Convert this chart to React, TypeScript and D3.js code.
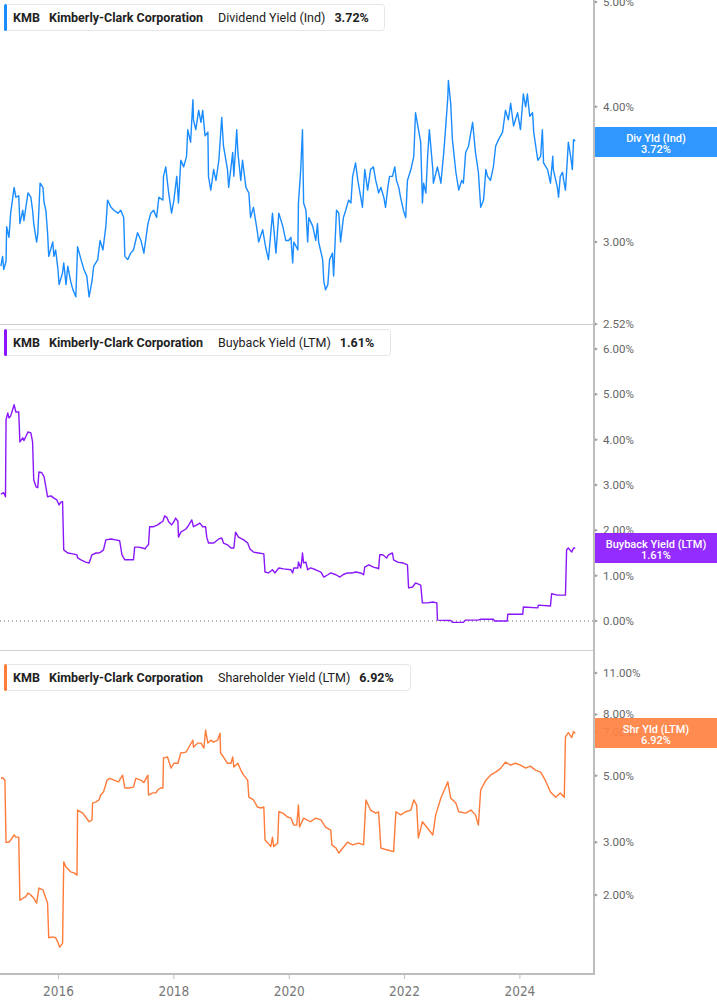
import React from "react";
import * as d3 from "d3";

// ---------- DATA ----------
const yearTicks = [2016, 2018, 2020, 2022, 2024];
const divTicks = [2.52, 3, 4, 5];
const buyTicks = [0, 1, 2, 3, 4, 5, 6];
const shrTicks = [2, 3, 5, 7, 8, 11];

const ticker = "KMB";
const company = "Kimberly-Clark Corporation";
const seriesNames = ["Dividend Yield (Ind)", "Buyback Yield (LTM)", "Shareholder Yield (LTM)"];
const shortNames = ["Div Yld (Ind)", "Buyback Yield (LTM)", "Shr Yld (LTM)"];
const lastValues = [3.72, 1.61, 6.92];

// [decimal year, yield %]
const dividendYield: [number, number][] = [
  [2015.0, 2.85], [2015.03, 2.91], [2015.05, 2.83], [2015.09, 2.88], [2015.1, 3.1], [2015.14, 3.03],
  [2015.17, 3.19], [2015.23, 3.37], [2015.26, 3.3], [2015.31, 3.31], [2015.33, 3.12], [2015.38, 3.21],
  [2015.4, 3.14], [2015.47, 3.33], [2015.52, 3.3], [2015.55, 3.21], [2015.57, 3.12], [2015.62, 3.0],
  [2015.64, 3.05], [2015.68, 3.4], [2015.73, 3.37], [2015.75, 3.26], [2015.78, 3.21], [2015.81, 3.06],
  [2015.83, 2.91], [2015.9, 3.0], [2015.92, 2.91], [2015.95, 2.95], [2015.99, 2.83], [2016.01, 2.74],
  [2016.07, 2.81], [2016.09, 2.87], [2016.13, 2.74], [2016.16, 2.85], [2016.21, 2.76], [2016.25, 2.71],
  [2016.3, 2.67], [2016.33, 2.97], [2016.39, 2.89], [2016.44, 2.83], [2016.49, 2.79], [2016.53, 2.67],
  [2016.58, 2.76], [2016.61, 2.85], [2016.68, 2.89], [2016.72, 3.01], [2016.77, 2.95], [2016.82, 3.1],
  [2016.85, 3.28], [2016.91, 3.23], [2016.96, 3.21], [2017.03, 3.19], [2017.08, 3.21], [2017.13, 3.16],
  [2017.15, 2.91], [2017.2, 2.89], [2017.25, 2.93], [2017.3, 2.95], [2017.37, 3.06], [2017.43, 3.01],
  [2017.48, 2.93], [2017.55, 3.12], [2017.6, 3.19], [2017.65, 3.21], [2017.7, 3.16], [2017.74, 3.3],
  [2017.81, 3.28], [2017.82, 3.45], [2017.86, 3.52], [2017.89, 3.4], [2017.91, 3.33], [2017.96, 3.19],
  [2018.0, 3.28], [2018.05, 3.45], [2018.08, 3.26], [2018.12, 3.57], [2018.17, 3.52], [2018.22, 3.6],
  [2018.24, 3.81], [2018.29, 3.71], [2018.33, 4.06], [2018.34, 3.89], [2018.38, 3.81], [2018.43, 3.97],
  [2018.47, 3.87], [2018.5, 3.97], [2018.54, 3.76], [2018.59, 3.79], [2018.6, 3.45], [2018.64, 3.35],
  [2018.69, 3.5], [2018.73, 3.42], [2018.78, 3.57], [2018.83, 3.91], [2018.86, 3.68], [2018.93, 3.5],
  [2018.95, 3.37], [2019.02, 3.63], [2019.04, 3.45], [2019.09, 3.81], [2019.11, 3.63], [2019.16, 3.42],
  [2019.19, 3.57], [2019.25, 3.37], [2019.3, 3.33], [2019.33, 3.16], [2019.38, 3.23], [2019.45, 3.06],
  [2019.47, 3.0], [2019.54, 3.08], [2019.59, 2.97], [2019.64, 2.89], [2019.71, 3.19], [2019.77, 2.93],
  [2019.82, 3.19], [2019.89, 3.1], [2019.94, 3.01], [2019.99, 3.01], [2020.03, 3.03], [2020.06, 2.87],
  [2020.08, 3.0], [2020.15, 2.95], [2020.16, 3.26], [2020.2, 3.5], [2020.23, 3.81], [2020.25, 3.26],
  [2020.29, 3.21], [2020.32, 3.0], [2020.34, 3.16], [2020.41, 3.1], [2020.46, 3.01], [2020.49, 3.12],
  [2020.51, 3.0], [2020.58, 2.89], [2020.6, 2.76], [2020.63, 2.71], [2020.67, 2.74], [2020.7, 2.89],
  [2020.75, 2.93], [2020.77, 2.79], [2020.82, 3.21], [2020.86, 3.19], [2020.89, 3.0], [2020.94, 3.16],
  [2020.98, 3.21], [2021.03, 3.28], [2021.07, 3.26], [2021.1, 3.45], [2021.15, 3.55], [2021.19, 3.42],
  [2021.24, 3.3], [2021.27, 3.23], [2021.31, 3.5], [2021.36, 3.35], [2021.41, 3.5], [2021.46, 3.52],
  [2021.5, 3.42], [2021.53, 3.37], [2021.55, 3.33], [2021.59, 3.37], [2021.64, 3.3], [2021.67, 3.23],
  [2021.71, 3.37], [2021.74, 3.45], [2021.79, 3.45], [2021.83, 3.52], [2021.86, 3.42], [2021.9, 3.37],
  [2021.93, 3.3], [2021.98, 3.21], [2022.02, 3.16], [2022.05, 3.42], [2022.11, 3.5], [2022.16, 3.6],
  [2022.19, 3.95], [2022.23, 3.84], [2022.28, 3.71], [2022.31, 3.26], [2022.33, 3.4], [2022.37, 3.33],
  [2022.4, 3.6], [2022.43, 3.81], [2022.49, 3.5], [2022.5, 3.4], [2022.57, 3.52], [2022.63, 3.4],
  [2022.68, 3.63], [2022.71, 3.81], [2022.75, 4.08], [2022.76, 4.23], [2022.8, 4.03], [2022.83, 3.73],
  [2022.89, 3.48], [2022.94, 3.35], [2022.99, 3.42], [2023.02, 3.4], [2023.06, 3.63], [2023.11, 3.68],
  [2023.18, 3.87], [2023.23, 3.63], [2023.28, 3.48], [2023.32, 3.23], [2023.37, 3.28], [2023.41, 3.5],
  [2023.44, 3.45], [2023.49, 3.42], [2023.54, 3.52], [2023.58, 3.68], [2023.63, 3.73], [2023.7, 3.79],
  [2023.75, 3.97], [2023.8, 3.89], [2023.84, 4.03], [2023.89, 3.84], [2023.96, 3.95], [2024.01, 3.81],
  [2024.06, 4.11], [2024.1, 4.0], [2024.13, 4.11], [2024.17, 3.92], [2024.22, 3.95], [2024.24, 3.79],
  [2024.31, 3.57], [2024.36, 3.6], [2024.39, 3.81], [2024.41, 3.55], [2024.48, 3.5], [2024.53, 3.4],
  [2024.57, 3.6], [2024.58, 3.5], [2024.65, 3.37], [2024.67, 3.3], [2024.7, 3.45], [2024.74, 3.48],
  [2024.76, 3.42], [2024.79, 3.35], [2024.83, 3.63], [2024.84, 3.71], [2024.88, 3.6], [2024.91, 3.5],
  [2024.93, 3.73], [2024.96, 3.72],
];

const buybackYield: [number, number][] = [
  [2015.0, 2.8], [2015.05, 2.83], [2015.08, 2.74], [2015.09, 4.44], [2015.12, 4.59], [2015.14, 4.48],
  [2015.17, 4.52], [2015.23, 4.77], [2015.26, 4.61], [2015.31, 4.61], [2015.33, 3.95], [2015.38, 4.04],
  [2015.4, 3.98], [2015.47, 4.17], [2015.52, 4.15], [2015.55, 3.95], [2015.57, 3.11], [2015.61, 2.96],
  [2015.64, 2.94], [2015.66, 3.29], [2015.71, 3.27], [2015.75, 3.18], [2015.78, 2.96], [2015.81, 2.74],
  [2015.87, 2.76], [2015.92, 2.71], [2015.97, 2.67], [2016.01, 2.56], [2016.04, 2.62], [2016.07, 2.63],
  [2016.09, 1.57], [2016.16, 1.5], [2016.25, 1.48], [2016.32, 1.46], [2016.33, 1.39], [2016.39, 1.35],
  [2016.47, 1.3], [2016.53, 1.28], [2016.58, 1.46], [2016.65, 1.5], [2016.7, 1.5], [2016.73, 1.52],
  [2016.78, 1.57], [2016.82, 1.79], [2016.91, 1.81], [2016.99, 1.79], [2017.06, 1.77], [2017.1, 1.46],
  [2017.15, 1.35], [2017.22, 1.35], [2017.3, 1.35], [2017.32, 1.63], [2017.39, 1.63], [2017.46, 1.61],
  [2017.5, 1.59], [2017.55, 1.68], [2017.56, 1.68], [2017.58, 2.08], [2017.65, 2.08], [2017.72, 2.12],
  [2017.76, 2.16], [2017.81, 2.2], [2017.84, 2.32], [2017.88, 2.28], [2017.91, 2.19], [2017.96, 2.12],
  [2018.0, 2.19], [2018.03, 2.27], [2018.07, 2.2], [2018.08, 1.85], [2018.12, 1.96], [2018.21, 2.03],
  [2018.26, 2.12], [2018.31, 2.23], [2018.34, 2.08], [2018.4, 2.12], [2018.45, 2.16], [2018.5, 2.08],
  [2018.55, 2.08], [2018.57, 1.85], [2018.6, 1.72], [2018.69, 1.72], [2018.78, 1.81], [2018.83, 1.83],
  [2018.86, 1.72], [2018.93, 1.68], [2018.99, 1.61], [2019.04, 1.61], [2019.07, 1.96], [2019.12, 1.85],
  [2019.21, 1.79], [2019.28, 1.72], [2019.32, 1.59], [2019.38, 1.52], [2019.47, 1.5], [2019.56, 1.48],
  [2019.58, 1.08], [2019.64, 1.06], [2019.71, 1.13], [2019.75, 1.06], [2019.82, 1.17], [2019.9, 1.15],
  [2020.03, 1.13], [2020.06, 1.06], [2020.08, 1.17], [2020.15, 1.17], [2020.16, 1.3], [2020.2, 1.17],
  [2020.22, 1.35], [2020.23, 1.5], [2020.25, 1.28], [2020.29, 1.3], [2020.32, 1.13], [2020.37, 1.17],
  [2020.46, 1.13], [2020.55, 1.08], [2020.6, 0.97], [2020.67, 1.02], [2020.72, 1.06], [2020.81, 1.02],
  [2020.88, 0.97], [2020.93, 1.02], [2021.01, 1.06], [2021.1, 1.06], [2021.15, 1.08], [2021.24, 1.06],
  [2021.29, 1.02], [2021.31, 1.19], [2021.38, 1.24], [2021.46, 1.19], [2021.52, 1.17], [2021.55, 1.15],
  [2021.57, 1.46], [2021.62, 1.46], [2021.69, 1.39], [2021.72, 1.46], [2021.79, 1.5], [2021.81, 1.35],
  [2021.88, 1.3], [2021.97, 1.28], [2022.05, 1.24], [2022.07, 0.73], [2022.14, 0.75], [2022.19, 0.84],
  [2022.28, 0.79], [2022.31, 0.4], [2022.4, 0.4], [2022.49, 0.42], [2022.56, 0.4], [2022.57, 0.02],
  [2022.8, 0.01], [2022.83, -0.03], [2023.02, -0.03], [2023.06, 0.02], [2023.28, 0.02], [2023.32, 0.04],
  [2023.54, 0.04], [2023.56, 0.0], [2023.78, 0.0], [2023.79, 0.15], [2024.05, 0.15], [2024.06, 0.31],
  [2024.31, 0.29], [2024.32, 0.35], [2024.53, 0.33], [2024.55, 0.6], [2024.65, 0.57], [2024.79, 0.57],
  [2024.81, 1.57], [2024.84, 1.61], [2024.9, 1.52], [2024.93, 1.61], [2024.96, 1.61],
];

const shareholderYield: [number, number][] = [
  [2015.0, 4.9], [2015.03, 4.93], [2015.07, 4.83], [2015.09, 3.0], [2015.14, 3.0], [2015.17, 3.05],
  [2015.23, 3.17], [2015.26, 3.12], [2015.31, 3.12], [2015.33, 1.92], [2015.38, 1.95], [2015.43, 1.97],
  [2015.47, 2.03], [2015.52, 2.0], [2015.57, 1.95], [2015.62, 1.88], [2015.66, 2.11], [2015.73, 2.08],
  [2015.78, 1.95], [2015.81, 1.88], [2015.83, 1.44], [2015.9, 1.45], [2015.95, 1.44], [2015.99, 1.39],
  [2016.02, 1.34], [2016.07, 1.38], [2016.09, 2.58], [2016.13, 2.48], [2016.21, 2.39], [2016.27, 2.37],
  [2016.32, 2.33], [2016.33, 3.84], [2016.42, 3.75], [2016.47, 3.64], [2016.53, 3.51], [2016.58, 3.56],
  [2016.59, 4.05], [2016.65, 4.09], [2016.7, 4.15], [2016.73, 4.31], [2016.78, 4.41], [2016.84, 4.83],
  [2016.89, 4.9], [2016.96, 4.83], [2017.04, 4.77], [2017.11, 5.02], [2017.15, 4.55], [2017.22, 4.55],
  [2017.3, 4.58], [2017.34, 4.9], [2017.43, 4.83], [2017.48, 4.74], [2017.55, 5.02], [2017.56, 4.31],
  [2017.63, 4.38], [2017.69, 4.38], [2017.72, 4.48], [2017.77, 4.55], [2017.81, 4.55], [2017.82, 5.73],
  [2017.89, 5.77], [2017.95, 5.3], [2018.0, 5.5], [2018.07, 5.5], [2018.12, 5.95], [2018.21, 5.99],
  [2018.26, 6.22], [2018.33, 6.57], [2018.34, 6.22], [2018.41, 6.42], [2018.47, 6.42], [2018.52, 6.18],
  [2018.55, 7.1], [2018.59, 6.42], [2018.64, 6.57], [2018.69, 6.47], [2018.76, 6.57], [2018.8, 6.93],
  [2018.81, 5.95], [2018.86, 5.77], [2018.93, 5.5], [2018.99, 5.5], [2019.02, 5.77], [2019.04, 5.34],
  [2019.11, 5.5], [2019.16, 5.22], [2019.21, 5.02], [2019.28, 4.83], [2019.3, 4.24], [2019.38, 4.15],
  [2019.45, 3.93], [2019.51, 3.9], [2019.56, 3.93], [2019.58, 3.05], [2019.63, 2.98], [2019.68, 2.9],
  [2019.71, 3.12], [2019.73, 2.9], [2019.8, 2.98], [2019.82, 3.79], [2019.89, 3.75], [2019.97, 3.64],
  [2020.03, 3.61], [2020.08, 3.42], [2020.13, 3.42], [2020.16, 3.99], [2020.18, 3.37], [2020.25, 3.61],
  [2020.37, 3.51], [2020.46, 3.61], [2020.55, 3.56], [2020.63, 3.37], [2020.72, 3.29], [2020.74, 2.94],
  [2020.81, 2.87], [2020.86, 2.76], [2020.93, 2.87], [2021.01, 3.0], [2021.1, 2.94], [2021.2, 2.98],
  [2021.29, 2.94], [2021.33, 4.15], [2021.41, 3.84], [2021.5, 3.75], [2021.55, 3.79], [2021.59, 2.87],
  [2021.69, 2.83], [2021.81, 2.79], [2021.85, 3.79], [2021.93, 3.7], [2022.02, 3.79], [2022.11, 3.84],
  [2022.16, 4.15], [2022.21, 3.99], [2022.24, 3.1], [2022.31, 3.51], [2022.4, 3.34], [2022.49, 3.17],
  [2022.54, 3.7], [2022.63, 4.21], [2022.69, 4.48], [2022.75, 4.77], [2022.8, 4.21], [2022.89, 4.05],
  [2022.94, 3.79], [2023.06, 3.75], [2023.15, 3.84], [2023.23, 3.7], [2023.28, 3.42], [2023.32, 4.48],
  [2023.41, 4.83], [2023.49, 5.02], [2023.58, 5.14], [2023.67, 5.3], [2023.75, 5.55], [2023.84, 5.42],
  [2023.92, 5.5], [2024.01, 5.42], [2024.1, 5.3], [2024.18, 5.38], [2024.27, 5.22], [2024.36, 5.14],
  [2024.44, 4.83], [2024.53, 4.41], [2024.62, 4.24], [2024.7, 4.38], [2024.77, 4.24], [2024.79, 6.73],
  [2024.84, 6.96], [2024.9, 6.7], [2024.93, 7.02], [2024.96, 6.92],
];

// ---------- STYLE ----------
const W = 717;
const H = 1005;
const AXIS_X = 594;
const COLORS = ["#1a8cff", "#8a17fb", "#ff7b3a"];
const BOX_COLORS = ["#1f8fff", "#8c1cff", "#ff8244"];
const FONT = "Roboto, 'Noto Sans', sans-serif";

export default function App() {
  const x = d3.scaleLinear().domain([2014.985, 2025.285]).range([0, AXIS_X]);

  const panels = [
    {
      data: dividendYield,
      y: d3.scaleLog().domain([2.52, 5.02]).range([324, 0]),
      ticks: divTicks,
      top: 0,
      bottom: 325,
      legendY: 4,
      legendW: 380,
      boxY: 127,
    },
    {
      data: buybackYield,
      y: d3.scaleLinear().domain([0, 6]).range([621, 349]),
      ticks: buyTicks,
      top: 326,
      bottom: 650,
      legendY: 329,
      legendW: 386,
      boxY: 533,
    },
    {
      data: shareholderYield,
      y: d3.scaleLog().domain([2, 11]).range([895, 673]),
      ticks: shrTicks,
      top: 651,
      bottom: 974,
      legendY: 664,
      legendW: 406,
      boxY: 718,
    },
  ];

  const fmt = (v: number) => v.toFixed(2) + "%";

  return (
    <svg width={W} height={H} style={{ display: "block", position: "absolute", left: 0, top: 0, background: "#fff" }} fontFamily={FONT}>
      <defs>
        {panels.map((p, i) => (
          <clipPath id={`clip${i}`} key={i}>
            <rect x={0} y={p.top} width={AXIS_X} height={p.bottom - p.top} />
          </clipPath>
        ))}
      </defs>

      {/* separators */}
      <line x1={0} x2={AXIS_X} y1={324.5} y2={324.5} stroke="#cfcfcf" strokeWidth={1} />
      <line x1={0} x2={AXIS_X} y1={650.5} y2={650.5} stroke="#cfcfcf" strokeWidth={1} />

      {/* zero line in buyback panel */}
      <line
        x1={0}
        x2={AXIS_X}
        y1={panels[1].y(0)}
        y2={panels[1].y(0)}
        stroke="#666"
        strokeWidth={1}
        strokeDasharray="1,3"
      />

      {/* lines */}
      {panels.map((p, i) => {
        const line = d3
          .line<[number, number]>()
          .x((d) => x(d[0]))
          .y((d) => p.y(d[1]))
          .curve(d3.curveLinear);
        return (
          <path
            key={i}
            d={line(p.data) || ""}
            fill="none"
            stroke={COLORS[i]}
            strokeWidth={1.4}
            strokeLinejoin="round"
            clipPath={`url(#clip${i})`}
          />
        );
      })}

      {/* right axis */}
      <line x1={AXIS_X} x2={AXIS_X} y1={0} y2={974} stroke="#bdbdbd" strokeWidth={2} />
      {panels.map((p, i) =>
        p.ticks.map((t) => (
          <g key={`${i}-${t}`}>
            <path d={`M${AXIS_X + 1},${p.y(t) - 1.5}L${AXIS_X + 4},${p.y(t)}L${AXIS_X + 1},${p.y(t) + 1.5}Z`} fill="#999" />
            <text x={603} y={p.y(t)} dy="0.35em" fontSize={11.5} fill="#666">
              {fmt(t)}
            </text>
          </g>
        ))
      )}

      {/* bottom axis */}
      <line x1={0} x2={AXIS_X + 1} y1={974} y2={974} stroke="#bdbdbd" strokeWidth={2} />
      {yearTicks.map((t) => (
        <g key={t}>
          <line x1={x(t)} x2={x(t)} y1={974} y2={979} stroke="#bdbdbd" strokeWidth={1} />
          <text
            x={x(t)}
            y={996}
            textAnchor="middle"
            fontSize={13.5}
            fill="#777"
            fontFamily="'DejaVu Sans Condensed', 'Liberation Sans Narrow', sans-serif"
            style={{ fontStretch: "condensed" }}
          >
            {t}
          </text>
        </g>
      ))}

      {/* value boxes */}
      {panels.map((p, i) => (
        <g key={`box${i}`}>
          <rect x={AXIS_X + 1} y={p.boxY} width={W - AXIS_X - 1} height={30} fill={BOX_COLORS[i]} fillOpacity={0.93} />
          <text x={656} y={p.boxY + 11} dy="0.35em" textAnchor="middle" fontSize={11} fill="#fff" fontWeight={500}>
            {shortNames[i]}
          </text>
          <text x={656} y={p.boxY + 22} dy="0.35em" textAnchor="middle" fontSize={11} fill="#fff" fontWeight={500}>
            {fmt(lastValues[i])}
          </text>
        </g>
      ))}

      {/* legends */}
      {panels.map((p, i) => (
        <g key={`leg${i}`} transform={`translate(4,${p.legendY})`}>
          <rect x={0.5} y={0.5} width={p.legendW} height={26} rx={3} fill="#fff" stroke="#e6e6e6" />
          <rect x={0} y={0} width={3} height={27} rx={1.5} fill={COLORS[i]} />
          <text y={13.5} dy="0.35em" fontSize={12.5} fill="#222">
            <tspan x={9} fontWeight={700}>{ticker}</tspan>
            <tspan x={45} fontWeight={700}>{company}</tspan>
            <tspan x={214} fontWeight={400}>{seriesNames[i]}</tspan>
            <tspan dx={9} fontWeight={700}>{fmt(lastValues[i])}</tspan>
          </text>
        </g>
      ))}
    </svg>
  );
}
